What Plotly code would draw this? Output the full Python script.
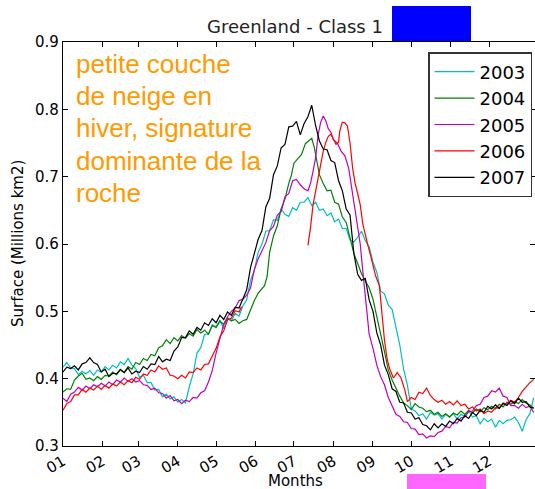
import plotly.graph_objects as go

# ---------------- data ----------------
month_labels = ["01", "02", "03", "04", "05", "06", "07", "08", "09", "10", "11", "12"]
month_lengths = [31, 28, 31, 30, 31, 30, 31, 31, 30, 31, 30, 31]

years = ["2003", "2004", "2005", "2006", "2007"]
colors = ["#00bfbf", "#008000", "#bf00bf", "#ff0000", "#000000"]

days_2003 = list(range(0, 370, 3))
vals_2003 = [0.417, 0.424, 0.416, 0.415, 0.406, 0.411, 0.407, 0.412, 0.405, 0.413, 0.410, 0.418, 0.413, 0.420,
             0.416, 0.425, 0.421, 0.430, 0.420, 0.415, 0.402, 0.405, 0.394, 0.394, 0.383, 0.384, 0.373, 0.377,
             0.370, 0.373, 0.365, 0.369, 0.364, 0.388, 0.407, 0.438, 0.446, 0.466, 0.466, 0.480, 0.477, 0.487,
             0.474, 0.490, 0.486, 0.497, 0.493, 0.508, 0.517, 0.546, 0.561, 0.588, 0.600, 0.619, 0.620, 0.636,
             0.635, 0.652, 0.644, 0.641, 0.654, 0.650, 0.662, 0.662, 0.669, 0.657, 0.662, 0.650, 0.652, 0.642,
             0.646, 0.633, 0.637, 0.623, 0.623, 0.606, 0.603, 0.610, 0.619, 0.605, 0.596, 0.573, 0.558, 0.530,
             0.526, 0.509, 0.503, 0.476, 0.450, 0.414, 0.390, 0.355, 0.352, 0.345, 0.348, 0.340, 0.350, 0.346,
             0.348, 0.340, 0.347, 0.343, 0.348, 0.340, 0.347, 0.344, 0.352, 0.343, 0.345, 0.333, 0.341, 0.336,
             0.340, 0.328, 0.338, 0.333, 0.338, 0.339, 0.343, 0.335, 0.322, 0.339, 0.348, 0.372]

days_2004 = [0, 3, 6, 9, 12, 15, 18, 21, 24, 27, 30, 33, 36, 39, 42, 45, 48, 51, 54, 57, 60, 63, 66, 69, 72,
             75, 78, 81, 84, 87, 90, 93, 96, 99, 102, 105, 108, 111, 114, 117, 120, 123, 126, 129, 132, 135,
             138, 141, 144, 147, 150, 153, 156, 158, 160, 162, 165, 168, 171, 174, 177, 179, 181, 184, 187,
             190, 193, 195, 197, 199, 201, 204, 207, 210, 213, 216, 219, 222, 225, 228, 231, 234, 237, 240,
             243, 246, 249, 252, 255, 258, 261, 264, 267, 270, 273, 276, 279, 282, 285, 288, 291, 294, 297,
             300, 303, 306, 309, 312, 315, 318, 321, 324, 327, 330, 333, 336, 339, 342, 345, 348, 351, 354,
             357, 360, 363, 366, 369]
vals_2004 = [0.380, 0.385, 0.384, 0.398, 0.404, 0.408, 0.399, 0.401, 0.397, 0.403, 0.399, 0.405, 0.404, 0.410,
             0.406, 0.413, 0.409, 0.418, 0.414, 0.424, 0.421, 0.430, 0.427, 0.436, 0.434, 0.446, 0.449, 0.458,
             0.452, 0.461, 0.456, 0.464, 0.460, 0.467, 0.463, 0.473, 0.468, 0.472, 0.466, 0.479, 0.476, 0.485,
             0.481, 0.490, 0.486, 0.488, 0.482, 0.486, 0.488, 0.502, 0.516, 0.527, 0.534, 0.538, 0.552, 0.588,
             0.612, 0.627, 0.652, 0.667, 0.690, 0.702, 0.720, 0.726, 0.733, 0.749, 0.754, 0.757, 0.743, 0.722,
             0.703, 0.690, 0.679, 0.680, 0.662, 0.659, 0.640, 0.632, 0.609, 0.586, 0.571, 0.556, 0.545, 0.535,
             0.518, 0.494, 0.466, 0.440, 0.413, 0.398, 0.385, 0.374, 0.364, 0.360, 0.354, 0.363, 0.358, 0.356,
             0.351, 0.353, 0.347, 0.350, 0.344, 0.348, 0.343, 0.349, 0.346, 0.352, 0.347, 0.353, 0.349, 0.355,
             0.351, 0.357, 0.354, 0.359, 0.355, 0.362, 0.358, 0.365, 0.362, 0.366, 0.363, 0.369, 0.364, 0.361,
             0.356]

days_2005 = [0, 3, 6, 9, 12, 15, 18, 21, 24, 27, 30, 33, 36, 39, 42, 45, 48, 51, 54, 57, 60, 63, 66, 69, 72,
             75, 78, 81, 84, 87, 90, 93, 96, 99, 102, 105, 108, 111, 114, 117, 120, 123, 126, 129, 132, 135,
             138, 141, 144, 147, 150, 153, 156, 159, 162, 165, 168, 171, 174, 177, 180, 183, 186, 189, 192,
             194, 196, 198, 200, 202, 204, 206, 208, 210, 212, 215, 218, 221, 224, 227, 230, 233, 235, 237,
             240, 243, 246, 249, 252, 255, 258, 261, 264, 267, 270, 273, 276, 279, 282, 285, 288, 291, 294,
             297, 300, 303, 306, 309, 312, 315, 318, 321, 324, 327, 330, 333, 336, 339, 342, 345, 348, 351,
             354, 357, 360, 363, 366, 369]
vals_2005 = [0.371, 0.366, 0.377, 0.380, 0.387, 0.383, 0.389, 0.385, 0.391, 0.388, 0.393, 0.389, 0.395, 0.391,
             0.398, 0.395, 0.401, 0.396, 0.400, 0.395, 0.397, 0.391, 0.390, 0.384, 0.386, 0.379, 0.378, 0.371,
             0.375, 0.367, 0.369, 0.363, 0.368, 0.366, 0.372, 0.371, 0.379, 0.382, 0.395, 0.412, 0.438, 0.460,
             0.481, 0.492, 0.500, 0.505, 0.516, 0.518, 0.524, 0.535, 0.562, 0.578, 0.589, 0.602, 0.620, 0.626,
             0.643, 0.648, 0.670, 0.675, 0.694, 0.696, 0.688, 0.682, 0.679, 0.690, 0.708, 0.728, 0.762, 0.781,
             0.790, 0.783, 0.771, 0.766, 0.755, 0.750, 0.738, 0.731, 0.712, 0.676, 0.642, 0.600, 0.560, 0.520,
             0.466, 0.445, 0.420, 0.403, 0.391, 0.372, 0.360, 0.347, 0.344, 0.336, 0.335, 0.326, 0.325, 0.317,
             0.318, 0.312, 0.315, 0.314, 0.320, 0.322, 0.329, 0.327, 0.335, 0.334, 0.342, 0.343, 0.351, 0.352,
             0.360, 0.362, 0.372, 0.374, 0.382, 0.380, 0.386, 0.374, 0.372, 0.360, 0.360, 0.356, 0.362, 0.357,
             0.359, 0.350]

days_2006 = [0, 3, 6, 9, 12, 15, 18, 21, 24, 27, 30, 33, 36, 39, 42, 45, 48, 51, 54, 57, 60, 63, 66, 69, 72,
             75, 78, 81, 84, 87, 90, 93, 96, 99, 102, 105, 108, 111, 114, 117, 120, 123, 126, 129, 132, 135,
             138, 140, 166, 192, 194, 196, 198, 200, 202, 204, 206, 208, 210, 212, 214, 216, 217, 219, 221,
             223, 225, 227, 229, 231, 233, 235, 237, 239, 241, 243, 245, 248, 250, 252, 254, 256, 259, 262,
             265, 268, 270, 273, 276, 279, 282, 285, 288, 291, 294, 297, 300, 303, 306, 309, 312, 315, 318,
             321, 324, 327, 330, 333, 336, 339, 342, 345, 348, 351, 354, 357, 360, 363, 366, 369]
vals_2006 = [0.353, 0.363, 0.366, 0.376, 0.376, 0.384, 0.380, 0.386, 0.383, 0.389, 0.384, 0.390, 0.386, 0.392,
             0.389, 0.395, 0.391, 0.397, 0.394, 0.402, 0.399, 0.407, 0.405, 0.413, 0.410, 0.419, 0.414, 0.416,
             0.405, 0.404, 0.400, 0.405, 0.401, 0.410, 0.409, 0.416, 0.413, 0.421, 0.422, 0.434, 0.445, 0.462,
             0.471, 0.487, 0.490, 0.501, 0.499, 0.507, None, 0.598, 0.624, 0.658, 0.678, 0.700, 0.718, 0.738,
             0.751, 0.760, 0.763, 0.755, 0.748, 0.751, 0.768, 0.781, 0.780, 0.775, 0.750, 0.713, 0.690, 0.675,
             0.658, 0.630, 0.612, 0.598, 0.584, 0.566, 0.553, 0.538, 0.497, 0.457, 0.430, 0.415, 0.401, 0.409,
             0.401, 0.383, 0.366, 0.372, 0.369, 0.380, 0.378, 0.386, 0.375, 0.369, 0.365, 0.368, 0.362, 0.366,
             0.361, 0.367, 0.360, 0.362, 0.355, 0.358, 0.352, 0.355, 0.348, 0.352, 0.350, 0.357, 0.356, 0.364,
             0.362, 0.368, 0.365, 0.372, 0.381, 0.388, 0.394, 0.399]

days_2007 = list(range(0, 370, 3))
vals_2007 = [0.410, 0.417, 0.415, 0.419, 0.413, 0.422, 0.424, 0.431, 0.424, 0.421, 0.410, 0.414, 0.403, 0.408,
             0.407, 0.414, 0.409, 0.416, 0.407, 0.411, 0.409, 0.418, 0.414, 0.422, 0.421, 0.433, 0.425, 0.429,
             0.427, 0.441, 0.447, 0.461, 0.461, 0.471, 0.466, 0.476, 0.472, 0.483, 0.479, 0.489, 0.483, 0.494,
             0.488, 0.499, 0.494, 0.506, 0.505, 0.520, 0.532, 0.565, 0.586, 0.607, 0.620, 0.655, 0.668, 0.703,
             0.716, 0.743, 0.748, 0.774, 0.775, 0.782, 0.762, 0.779, 0.789, 0.806, 0.776, 0.753, 0.741, 0.740,
             0.724, 0.721, 0.694, 0.679, 0.652, 0.643, 0.586, 0.555, 0.546, 0.549, 0.517, 0.500, 0.468, 0.450,
             0.420, 0.406, 0.385, 0.381, 0.365, 0.364, 0.350, 0.349, 0.340, 0.342, 0.332, 0.330, 0.324, 0.333,
             0.327, 0.333, 0.329, 0.337, 0.333, 0.341, 0.337, 0.345, 0.341, 0.350, 0.345, 0.353, 0.350, 0.359,
             0.355, 0.361, 0.356, 0.363, 0.360, 0.367, 0.363, 0.371, 0.365, 0.366, 0.358, 0.356]

series_days = [days_2003, days_2004, days_2005, days_2006, days_2007]
series_vals = [vals_2003, vals_2004, vals_2005, vals_2006, vals_2007]

note_lines = ["petite couche", "de neige en", "hiver, signature", "dominante de la", "roche"]
title_text = "Greenland - Class 1"
y_title = "Surface (Millions km2)"
x_title = "Months"

# ---------------- figure ----------------
month_starts = [sum(month_lengths[:i]) for i in range(12)]

W, H = 535, 489
L, R, T, B = 63, 0, 42, 43
pw, ph = W - L - R, H - T - B


def px_x(px):
    return (px - L) / pw


def px_y(py):
    return 1 - (py - T) / ph


fig = go.Figure()
for name, c, d, v in zip(years, colors, series_days, series_vals):
    fig.add_trace(go.Scatter(x=d, y=v, mode="lines", name=name,
                             line=dict(color=c, width=1.2), connectgaps=False))

axis_common = dict(showline=True, linecolor="black", linewidth=1.2, mirror="ticks",
                   ticks="inside", ticklen=5, tickcolor="black", showgrid=False,
                   zeroline=False, tickfont=dict(size=15, color="black", family="DejaVu Sans"))

fig.update_xaxes(range=[0, 370], tickvals=month_starts, ticktext=month_labels,
                 tickangle=-30, **axis_common)
fig.update_yaxes(range=[0.3, 0.9], tickvals=[0.3, 0.4, 0.5, 0.6, 0.7, 0.8, 0.9],
                 ticktext=["0.3", "0.4", "0.5", "0.6", "0.7", "0.8", "0.9"], **axis_common)

annotations = []
for i, line in enumerate(note_lines):
    annotations.append(dict(text=line, xref="paper", yref="paper",
                            x=px_x(74), y=px_y(64 + 32.2 * i), xanchor="left", yanchor="middle",
                            showarrow=False,
                            font=dict(family="Liberation Sans", size=26, color="#ff9a00")))
annotations.append(dict(text=y_title, xref="paper", yref="paper", x=px_x(18), y=0.5,
                        textangle=-90, showarrow=False, xanchor="center", yanchor="middle",
                        font=dict(size=15, color="black", family="DejaVu Sans")))
annotations.append(dict(text=x_title, xref="paper", yref="paper", x=px_x(295), y=px_y(481),
                        showarrow=False, xanchor="center", yanchor="middle",
                        font=dict(size=15, color="black", family="DejaVu Sans")))

shapes = [
    dict(type="rect", xref="paper", yref="paper", x0=px_x(392), x1=px_x(471),
         y0=px_y(41), y1=px_y(6), fillcolor="#0000ff", line=dict(width=0), layer="above"),
    dict(type="rect", xref="paper", yref="paper", x0=px_x(407), x1=px_x(486),
         y0=px_y(489), y1=px_y(474), fillcolor="#ff66ff", line=dict(width=0), layer="above"),
]

fig.update_layout(
    width=W, height=H,
    margin=dict(l=L, r=R, t=T, b=B, pad=0),
    paper_bgcolor="white", plot_bgcolor="white",
    font=dict(family="DejaVu Sans", color="black"),
    title=dict(text=title_text, x=295 / W, y=1 - 27 / H, xref="container", yref="container",
               xanchor="center", yanchor="middle",
               font=dict(size=18, color="#222222", family="DejaVu Sans")),
    legend=dict(x=px_x(532), y=px_y(52), xanchor="right", yanchor="top",
                bgcolor="white", bordercolor="#333333", borderwidth=1.5,
                font=dict(size=18, color="black", family="DejaVu Sans"),
                itemwidth=40),
    annotations=annotations,
    shapes=shapes,
)

fig.write_html("out.html")
